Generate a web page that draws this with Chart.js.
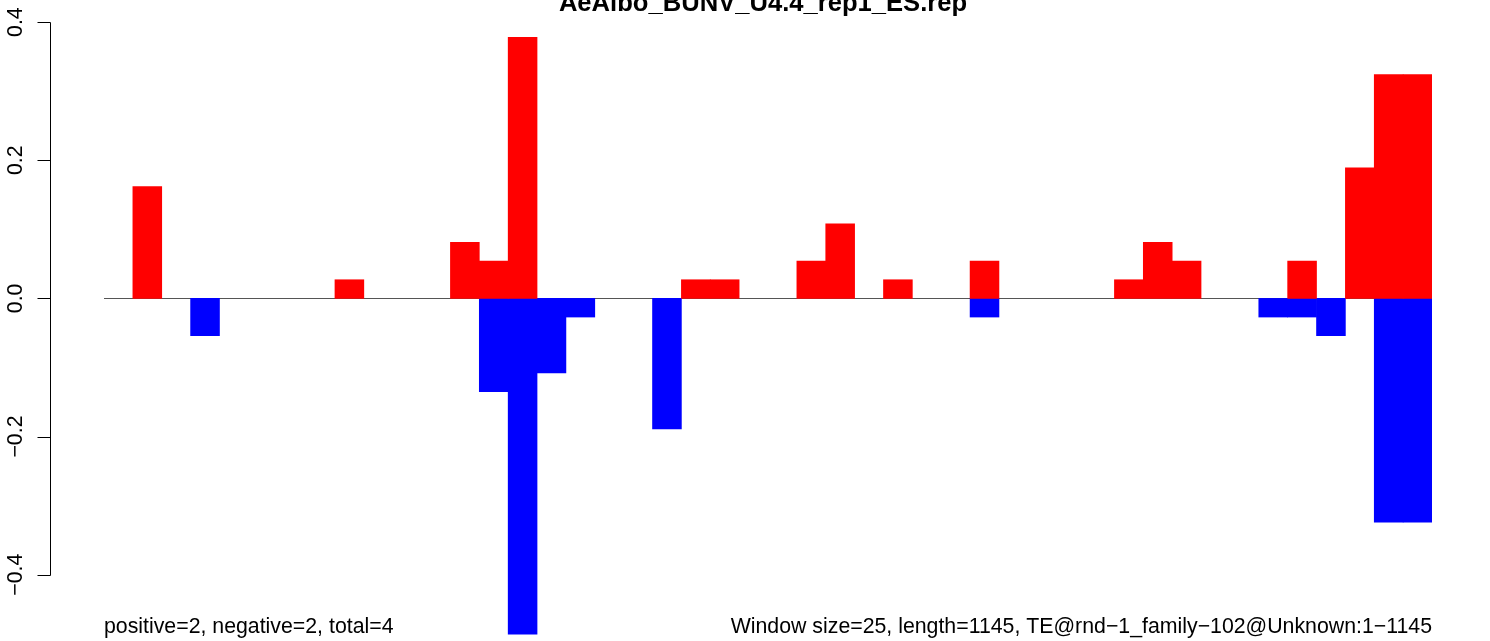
<!DOCTYPE html>
<html>
<head>
<meta charset="utf-8">
<script src="https://cdn.jsdelivr.net/npm/chart.js@4.4.1/dist/chart.umd.min.js"></script>
<style>
  html, body { margin: 0; padding: 0; background: #fff; }
  #wrap { width: 1490px; height: 641px; position: relative; }
</style>
</head>
<body>
<div id="wrap"><canvas id="chart"></canvas></div>
<script>
// window index along the TE (46 windows of 25 bp)
const windows = ['1','2','3','4','5','6','7','8','9','10','11','12','13','14','15','16','17','18','19','20','21','22','23','24','25','26','27','28','29','30','31','32','33','34','35','36','37','38','39','40','41','42','43','44','45','46'];

// positive strand values (red), null = empty window
const positiveVals = [null, 0.162, null, null, null, null, null, null, 0.027, null, null, null, 0.081, 0.054, 0.378, null, null, null, null, null, 0.027, 0.027, null, null, 0.054, 0.108, null, 0.027, null, null, 0.054, null, null, null, null, 0.027, 0.081, 0.054, null, null, null, 0.054, null, 0.189, 0.324, 0.324];

// negative strand values (blue)
const negativeVals = [null, null, null, -0.054, null, null, null, null, null, null, null, null, null, -0.135, -0.486, -0.108, -0.027, null, null, -0.189, null, null, null, null, null, null, null, null, null, null, -0.027, null, null, null, null, null, null, null, null, null, -0.027, -0.027, -0.054, null, -0.324, -0.324];

// y axis ticks
const yTicks = [-0.4, -0.2, 0, 0.2, 0.4];
const yTickLabels = ['\u22120.4', '\u22120.2', '0.0', '0.2', '0.4'];

const titleText = 'AeAlbo_BUNV_U4.4_rep1_ES.rep';
const leftNote = 'positive=2, negative=2, total=4';
const rightNote = 'Window size=25, length=1145, TE@rnd\u22121_family\u2212102@Unknown:1\u22121145';

const FONT = '"Liberation Sans", Arial, Helvetica, sans-serif';

// draws the zero line, R-style y axis and the texts
const rDecor = {
    id: 'rDecor',
    beforeDatasetsDraw(chart) {
        const ctx = chart.ctx;
        const area = chart.chartArea;
        const y0 = Math.round(chart.scales.y.getPixelForValue(0)) + 0.5;
        ctx.save();
        ctx.strokeStyle = '#555555';
        ctx.lineWidth = 1;
        ctx.beginPath();
        ctx.moveTo(area.left, y0);
        ctx.lineTo(area.right, y0);
        ctx.stroke();
        ctx.restore();
    },
    afterDraw(chart) {
        const ctx = chart.ctx;
        const yScale = chart.scales.y;
        const area = chart.chartArea;
        const axisX = 50.5;
        ctx.save();

        // axis line + ticks
        ctx.strokeStyle = '#000';
        ctx.lineWidth = 1;
        const yTop = Math.round(yScale.getPixelForValue(yTicks[yTicks.length - 1])) + 0.5;
        const yBot = Math.round(yScale.getPixelForValue(yTicks[0])) + 0.5;
        ctx.beginPath();
        ctx.moveTo(axisX, yTop);
        ctx.lineTo(axisX, yBot);
        yTicks.forEach(v => {
            const py = Math.round(yScale.getPixelForValue(v)) + 0.5;
            ctx.moveTo(axisX, py);
            ctx.lineTo(axisX - 13, py);
        });
        ctx.stroke();

        // rotated tick labels
        ctx.fillStyle = '#000';
        ctx.font = '21.3px ' + FONT;
        ctx.textAlign = 'center';
        ctx.textBaseline = 'alphabetic';
        yTicks.forEach((v, i) => {
            const py = yScale.getPixelForValue(v);
            ctx.save();
            ctx.translate(22, py);
            ctx.rotate(-Math.PI / 2);
            ctx.fillText(yTickLabels[i], 0, 0);
            ctx.restore();
        });

        // title (cut at the top like the original)
        ctx.font = 'bold 25.6px ' + FONT;
        ctx.textAlign = 'center';
        ctx.fillText(titleText, 763, 11);

        // bottom notes
        ctx.font = '21.3px ' + FONT;
        ctx.textAlign = 'left';
        ctx.fillText(leftNote, area.left, 633);
        ctx.textAlign = 'right';
        ctx.fillText(rightNote, area.right, 633);

        ctx.restore();
    }
};

const ctx = document.getElementById('chart').getContext('2d');
new Chart(ctx, {
    type: 'bar',
    data: {
        labels: windows,
        datasets: [
            {
                label: 'positive',
                data: positiveVals,
                backgroundColor: '#ff0000',
                borderWidth: 0,
                barPercentage: 1,
                categoryPercentage: 1
            },
            {
                label: 'negative',
                data: negativeVals,
                backgroundColor: '#0000ff',
                borderWidth: 0,
                barPercentage: 1,
                categoryPercentage: 1
            }
        ]
    },
    options: {
        responsive: true,
        maintainAspectRatio: false,
        animation: false,
        layout: { padding: { left: 104, right: 58, top: 0, bottom: 0 } },
        plugins: {
            legend: { display: false },
            tooltip: { enabled: false }
        },
        scales: {
            x: { stacked: true, display: false },
            y: { stacked: true, display: false, min: -0.496, max: 0.432 }
        }
    },
    plugins: [rDecor]
});
</script>
</body>
</html>
